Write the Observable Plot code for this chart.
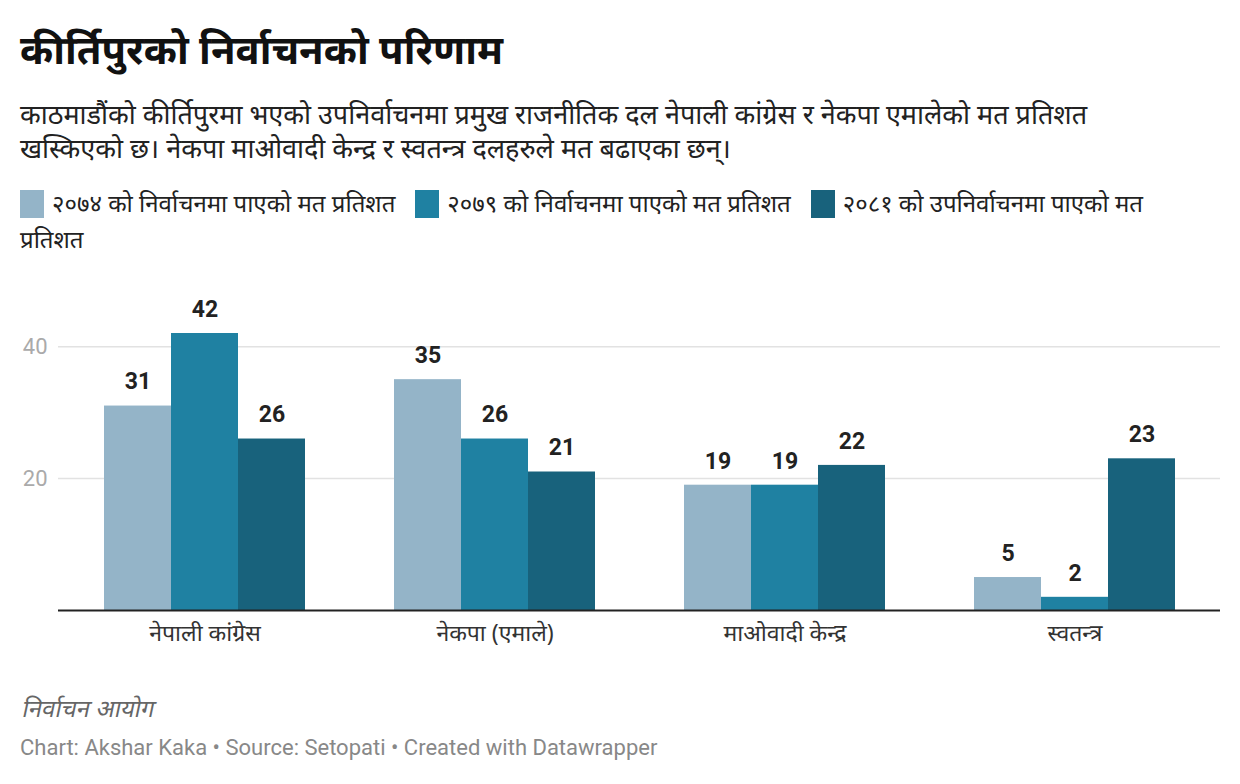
<!DOCTYPE html>
<html>
<head>
<meta charset="utf-8">
<script src="https://cdn.jsdelivr.net/npm/d3@7"></script>
<script src="https://cdn.jsdelivr.net/npm/@observablehq/plot@0.6"></script>
<style>
  html, body { margin: 0; padding: 0; background: #fff; }
  body { width: 1240px; height: 784px; position: relative; overflow: hidden; font-family: "Noto Sans", Roboto, sans-serif; }
  .abs { position: absolute; left: 20px; }
  #title { top: 23px; font-size: 40px; font-weight: 700; color: #111; line-height: 52px; white-space: nowrap; }
  #subtitle { top: 97px; font-size: 27px; color: #222; line-height: 34px; width: 1110px; }
  #legend { top: 185px; font-size: 24px; color: #222; line-height: 36px; width: 1200px; }
  .row { white-space: nowrap; }
  .item { display: inline-block; margin-right: 20px; }
  .sw { display: inline-block; width: 24px; height: 28px; vertical-align: -6px; margin-right: 8px; }
  .layer { position: absolute; left: 0; top: 270px; }
  #notes { top: 693px; font-size: 24px; font-style: italic; color: #666; line-height: 30px; transform: skewX(-12deg); transform-origin: left bottom; }
  #byline { top: 735px; font-size: 22px; color: #888; line-height: 26px; font-family: Roboto, sans-serif; }
</style>
</head>
<body>
<div id="title" class="abs"></div>
<div id="subtitle" class="abs"></div>
<div id="legend" class="abs"></div>
<div id="back" class="layer"></div>
<div id="chart" class="layer"></div>
<div id="front" class="layer"></div>
<div id="notes" class="abs"></div>
<div id="byline" class="abs"></div>
<script>
const titleText = "कीर्तिपुरको निर्वाचनको परिणाम";
const subtitleText = "काठमाडौंको कीर्तिपुरमा भएको उपनिर्वाचनमा प्रमुख राजनीतिक दल नेपाली कांग्रेस र नेकपा एमालेको मत प्रतिशत खस्किएको छ। नेकपा माओवादी केन्द्र र स्वतन्त्र दलहरुले मत बढाएका छन्।";
const notesText = "निर्वाचन आयोग";
const bylineText = "Chart: Akshar Kaka • Source: Setopati • Created with Datawrapper";

const parties = ["नेपाली कांग्रेस", "नेकपा (एमाले)", "माओवादी केन्द्र", "स्वतन्त्र"];
const seriesNames = [
  "२०७४ को निर्वाचनमा पाएको मत प्रतिशत",
  "२०७९ को निर्वाचनमा पाएको मत प्रतिशत",
  "२०८१ को उपनिर्वाचनमा पाएको मत प्रतिशत"
];
const v2074 = [31, 35, 19, 5];
const v2079 = [42, 26, 19, 2];
const v2081 = [26, 21, 22, 23];
const seriesColors = ["#94b4c8", "#1f81a2", "#18627c"];
const yTicks = [20, 40];
const yDomain = [0, 42];

const seriesValues = [v2074, v2079, v2081];
const data = parties.flatMap((p, i) =>
  seriesNames.map((s, j) => ({party: p, series: s, value: seriesValues[j][i]}))
);

document.getElementById("title").textContent = titleText;
document.getElementById("subtitle").textContent = subtitleText;
document.getElementById("notes").textContent = notesText;
document.getElementById("byline").textContent = bylineText;

// legend: the last item's final word wraps to a second line, as in the reference
const legend = document.getElementById("legend");
const row = document.createElement("div");
row.className = "row";
legend.appendChild(row);
let overflowWord = null;
seriesNames.forEach((s, j) => {
  const it = document.createElement("span");
  it.className = "item";
  const sw = document.createElement("span");
  sw.className = "sw";
  sw.style.background = seriesColors[j];
  it.appendChild(sw);
  let label = s;
  if (j === seriesNames.length - 1) {
    const k = s.lastIndexOf(" ");
    label = s.slice(0, k);
    overflowWord = s.slice(k + 1);
  }
  it.appendChild(document.createTextNode(label));
  row.appendChild(it);
});
if (overflowWord) {
  const row2 = document.createElement("div");
  row2.className = "row";
  row2.textContent = overflowWord;
  legend.appendChild(row2);
}

const common = {
  width: 1240,
  height: 390,
  marginLeft: 58,
  marginRight: 20,
  marginTop: 63,
  marginBottom: 50,
  style: {fontFamily: "Roboto, sans-serif", fontSize: "22px", background: "transparent", overflow: "visible"},
  y: {domain: yDomain, axis: null}
};

// background: grid and y axis
const back = Plot.plot({
  ...common,
  marks: [
    Plot.gridY(yTicks, {stroke: "#e2e2e2", strokeOpacity: 1, strokeWidth: 1.5}),
    Plot.axisY(yTicks, {tickSize: 0, tickPadding: 11, fill: "#aaaaaa", fontSize: 22, label: null})
  ]
});

// bars, values, category axis
const chart = Plot.plot({
  ...common,
  fx: {domain: parties, paddingInner: 0.3, paddingOuter: 0.15, label: null, axis: null},
  x: {domain: seriesNames, padding: 0, axis: null},
  color: {domain: seriesNames, range: seriesColors},
  marks: [
    Plot.barY(data, {fx: "party", x: "series", y: "value", fill: "series"}),
    Plot.text(data, {fx: "party", x: "series", y: "value", text: d => String(d.value), dy: -24, fontWeight: "bold", fill: "#222", fontSize: 23}),
    Plot.axisFx({anchor: "bottom", tickSize: 0, tickPadding: 14, fontSize: 23, fill: "#333", label: null, fontFamily: "Noto Sans, sans-serif"})
  ]
});

// baseline on top
const front = Plot.plot({
  ...common,
  marks: [
    Plot.ruleY([0], {stroke: "#222", strokeWidth: 2})
  ]
});

document.getElementById("back").appendChild(back);
document.getElementById("chart").appendChild(chart);
document.getElementById("front").appendChild(front);
</script>
</body>
</html>
